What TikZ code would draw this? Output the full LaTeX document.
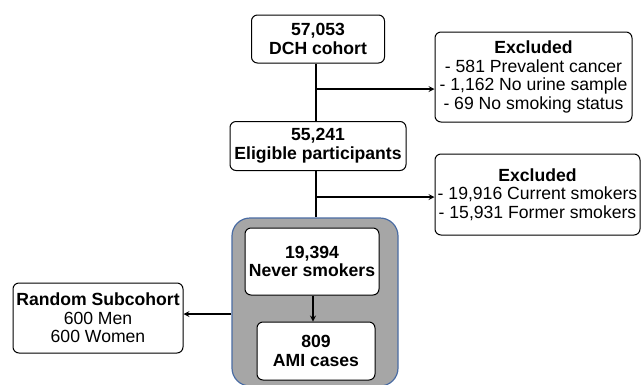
\documentclass[tikz,border=0pt]{standalone}
\usepackage{fontspec}
\setmainfont{Liberation Sans}
\usetikzlibrary{positioning}

\definecolor{framegray}{HTML}{A6A6A6}
\definecolor{frameblue}{HTML}{4A6CA3}

\tikzstyle{stage}=[rectangle, rounded corners=6pt, draw=black, line width=1pt, fill=white, align=center, inner sep=2pt, font=\fontsize{17.6}{18.6}\selectfont]
\tikzstyle{arrow}=[line width=1.6pt, ->, >=stealth]
\tikzstyle{link}=[line width=1.6pt]

\begin{document}
\begin{tikzpicture}[x=1pt, y=-1pt, node distance=107pt]
\clip (0,0) rectangle (641,384);

\node(frame)[rectangle, rounded corners=18pt, draw=frameblue, line width=1.2pt, fill=framegray, minimum width=166pt, minimum height=168pt] at (315,302){};

\node(dch)[stage, minimum width=133pt, minimum height=48pt] at (318,39){\textbf{57,053}\\\textbf{DCH cohort}};
\node(elig)[stage, minimum width=176pt, minimum height=49pt, below of=dch]{\textbf{55,241}\\\textbf{Eligible participants}};
\node(excl1)[stage, minimum width=197pt, minimum height=90pt] at (533.5,77){\textbf{Excluded}\\- 581 Prevalent cancer\\- 1,162 No urine sample\\- 69 No smoking status};
\node(excl2)[stage, minimum width=205pt, minimum height=81pt] at (537.5,194.5){\textbf{Excluded}\\- 19,916 Current smokers\\- 15,931 Former smokers};
\node(never)[stage, minimum width=134pt, minimum height=67pt] at (312,261.5){\textbf{19,394}\\\textbf{Never smokers}};
\node(ami)[stage, minimum width=118pt, minimum height=58pt] at (316,351){\textbf{809}\\\textbf{AMI cases}};
\node(rand)[stage, minimum width=170pt, minimum height=70pt] at (98,318){\textbf{Random Subcohort}\\600 Men\\600 Women};

\coordinate(j1) at (316,89);
\coordinate(j2) at (316,197);
\coordinate(j3) at (232,314);
\coordinate(j4) at (313,300);

\draw[link](dch.south -| j1)--(elig.north -| j1);
\draw[link](elig.south -| j2)--(frame.north -| j2);
\draw[arrow](j1)--(excl1.west |- j1);
\draw[arrow](j2)--(excl2.west |- j2);
\draw[arrow](never.south -| j4)--(ami.north -| j4);
\draw[arrow](frame.west |- j3)--(rand.east |- j3);

\end{tikzpicture}
\end{document}
